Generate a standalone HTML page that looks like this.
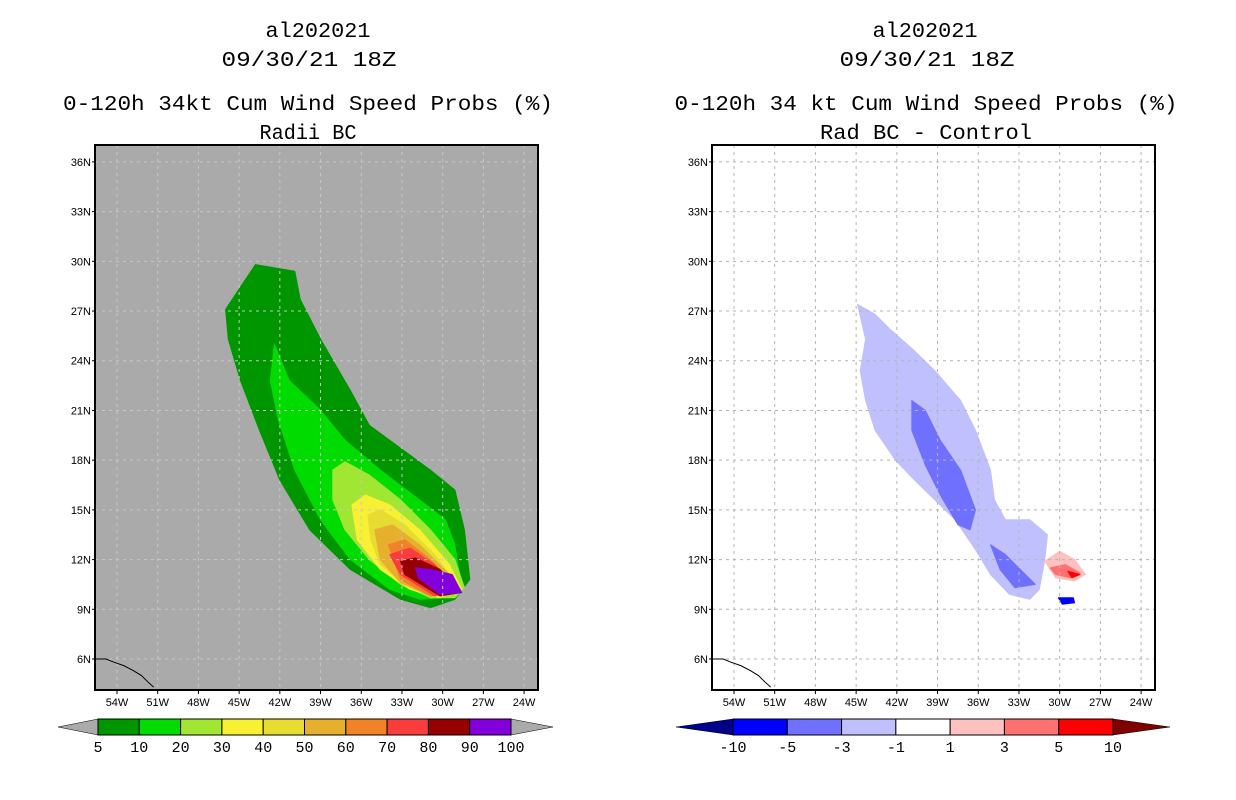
<!DOCTYPE html>
<html><head><meta charset="utf-8"><style>
html,body{margin:0;padding:0;background:#fff;}
svg{display:block;font-family:"Liberation Sans",sans-serif;}
.t{font-family:"Liberation Mono",monospace;}
</style></head><body>
<svg id="chart" width="1236" height="800" viewBox="0 0 1236 800">
<g font-size="21" text-anchor="middle" fill="#000" class="t">
<text x="318" y="37" textLength="105" lengthAdjust="spacingAndGlyphs">al202021</text>
<text x="309" y="66" textLength="175" lengthAdjust="spacingAndGlyphs">09/30/21 18Z</text>
<text x="308" y="110" textLength="490" lengthAdjust="spacingAndGlyphs">0-120h 34kt Cum Wind Speed Probs (%)</text>
<text x="308" y="139" textLength="97" lengthAdjust="spacingAndGlyphs">Radii BC</text>
</g>
<g font-size="21" text-anchor="middle" fill="#000" class="t">
<text x="925" y="37" textLength="105" lengthAdjust="spacingAndGlyphs">al202021</text>
<text x="927" y="66" textLength="175" lengthAdjust="spacingAndGlyphs">09/30/21 18Z</text>
<text x="926" y="110" textLength="503" lengthAdjust="spacingAndGlyphs">0-120h 34 kt Cum Wind Speed Probs (%)</text>
<text x="926" y="139" textLength="212" lengthAdjust="spacingAndGlyphs">Rad BC - Control</text>
</g>
<g id="left"></g>
<g id="right"></g>
<g id="cbars"></g>
</svg>
<script>
// Data
const lonTicks = [-54,-51,-48,-45,-42,-39,-36,-33,-30,-27,-24];
const latTicks = [6,9,12,15,18,21,24,27,30,33,36];
const coast = [[-55.6,6.0],[-54.8,6.0],[-54.2,5.8],[-53.5,5.6],[-52.8,5.3],[-52.2,5.0],[-51.7,4.6],[-51.3,4.3]];
const probLevels = [5,10,20,30,40,50,60,70,80,90];
const probColors = ["#009600","#00dc00","#a0e632","#f8f032","#e6dc32","#e6af2d","#f08228","#fa3c3c","#960000","#8200dc"];
const probLabels = ["5","10","20","30","40","50","60","70","80","90","100"];
const prob5 = [[-46.0,27.1],[-43.8,29.8],[-40.9,29.4],[-40.5,27.7],[-39.0,25.3],[-36.8,22.2],[-35.4,20.1],[-30.9,17.4],[-29.1,16.2],[-28.4,13.8],[-28.0,10.8],[-29.1,9.6],[-30.9,9.1],[-33.1,9.6],[-36.8,11.4],[-39.8,13.8],[-42.0,16.8],[-43.5,19.8],[-44.9,22.8],[-45.8,25.3]];
const prob10 = [[-42.4,25.0],[-41.3,22.8],[-39.0,21.0],[-37.2,19.2],[-34.6,17.4],[-31.7,15.6],[-29.8,14.4],[-29.1,12.9],[-28.7,10.8],[-29.8,9.7],[-31.7,9.6],[-33.9,10.2],[-36.8,12.0],[-39.0,14.4],[-40.9,17.4],[-42.1,20.4],[-42.7,22.8]];
const prob20 = [[-38.1,17.4],[-37.2,17.9],[-35.4,17.1],[-33.1,15.6],[-30.9,13.8],[-29.1,12.0],[-28.4,10.3],[-29.1,9.7],[-30.9,9.7],[-33.1,10.5],[-35.4,12.0],[-37.2,13.8],[-38.1,15.6]];
const prob30 = [[-36.7,15.3],[-35.7,15.9],[-33.9,15.3],[-31.7,13.8],[-29.5,11.7],[-28.6,10.2],[-30.2,9.7],[-32.4,10.2],[-34.6,11.4],[-36.3,13.2]];
const prob40 = [[-35.5,14.7],[-34.6,15.0],[-32.8,14.1],[-30.6,12.3],[-28.8,10.3],[-30.6,9.8],[-32.8,10.5],[-34.6,11.7],[-35.3,13.2]];
const prob50 = [[-35.0,13.8],[-33.7,14.1],[-31.7,12.9],[-29.5,11.1],[-28.8,10.2],[-30.9,9.8],[-33.1,10.6],[-34.6,12.0]];
const prob60 = [[-34.0,12.9],[-32.8,13.2],[-30.9,12.0],[-28.9,10.2],[-30.9,9.8],[-33.1,10.8]];
const prob70 = [[-33.9,12.3],[-32.4,12.7],[-30.6,11.7],[-28.7,10.2],[-30.6,9.8],[-33.1,11.1]];
const prob80 = [[-33.1,11.9],[-32.0,12.1],[-30.2,11.4],[-28.7,10.0],[-30.2,9.8],[-32.8,11.1]];
const prob90 = [[-32.0,11.5],[-30.9,11.4],[-29.3,11.1],[-28.6,10.0],[-30.2,9.9],[-31.8,10.9]];
const diffLabels = ["-10","-5","-3","-1","1","3","5","10"];
const diffColors = ["#0000ff","#7070ff","#c0c0ff","#ffffff","#ffc0c0","#ff7070","#ff0000"];
const diffNeg3 = [[-44.9,27.4],[-43.6,26.8],[-42.5,25.9],[-40.7,24.6],[-39.2,23.4],[-37.3,21.6],[-36.2,19.8],[-35.1,17.4],[-34.8,15.6],[-34.0,14.4],[-32.2,14.4],[-30.9,13.5],[-31.1,12.0],[-31.5,10.2],[-32.2,9.6],[-33.7,9.9],[-35.1,11.1],[-36.2,12.6],[-37.7,14.4],[-39.2,15.6],[-40.7,16.8],[-42.1,18.0],[-43.6,19.8],[-44.3,21.6],[-44.7,23.4],[-44.3,25.3]];
const diffNeg5a = [[-40.9,21.6],[-39.9,21.0],[-38.8,19.2],[-37.3,17.4],[-36.2,15.0],[-36.6,13.8],[-37.5,14.1],[-38.8,15.9],[-39.9,17.7],[-40.9,19.8]];
const diffNeg5b = [[-35.1,12.9],[-34.0,12.3],[-32.9,11.4],[-31.8,10.5],[-33.3,10.3],[-34.4,11.4]];
const diffNeg10 = [[-30.1,9.7],[-29.0,9.7],[-28.9,9.4],[-29.8,9.3]];
const diffPos1 = [[-31.1,11.9],[-30.0,12.5],[-28.9,12.0],[-28.1,11.1],[-28.9,10.7],[-30.3,10.9]];
const diffPos3 = [[-30.7,11.5],[-29.6,11.7],[-28.5,11.2],[-29.2,10.9],[-30.3,11.1]];
const diffPos5 = [[-29.4,11.3],[-28.5,11.1],[-29.1,10.9]];

const NS='http://www.w3.org/2000/svg';
function mk(tag,attrs,parent){const e=document.createElementNS(NS,tag);for(const k in attrs)e.setAttribute(k,attrs[k]);parent.appendChild(e);return e;}
function makeMap(g,x0,bg,gridCol){
  const xs=lon=>x0+22+(lon+54)*13.57;
  const ys=lat=>659-(lat-6)*16.57;
  const r=mk('rect',{x:x0,y:145,width:443,height:545,fill:bg},g);
  
  
  const clipId='clip'+x0;
  const cp=mk('clipPath',{id:clipId},g);
  mk('rect',{x:x0,y:145,width:443,height:545},cp);
  const inner=mk('g',{'clip-path':'url(#'+clipId+')'},g);
  
  
  return {xs,ys,inner,finish:()=>{
    lonTicks.forEach(l=>{
      const gl=mk('line',{x1:xs(l),x2:xs(l),y1:145,y2:690,stroke:gridCol,'stroke-dasharray':'3,4','stroke-width':1},inner);
      
      
      const t=mk('text',{x:xs(l),y:706,'font-size':11,'text-anchor':'middle'},g);
      t.textContent=Math.abs(l)+'W';
      
      
      mk('line',{x1:xs(l),x2:xs(l),y1:690,y2:694,stroke:'#000'},g);
    });
    latTicks.forEach(l=>{
      const gl=mk('line',{x1:x0,x2:x0+443,y1:ys(l),y2:ys(l),stroke:gridCol,'stroke-dasharray':'3,4','stroke-width':1},inner);
      
      
      const t=mk('text',{x:x0-4,y:ys(l)+4,'font-size':11,'text-anchor':'end'},g);
      t.textContent=l+'N';
      
      
      mk('line',{x1:x0-3,x2:x0,y1:ys(l),y2:ys(l),stroke:'#000'},g);
    });
    const c=mk('polyline',{points:coast.map(p=>xs(p[0])+','+ys(p[1])).join(' '),fill:'none',stroke:'#000','stroke-width':1},inner);
    
    
    const f=mk('rect',{x:x0,y:145,width:443,height:545,fill:'none',stroke:'#000','stroke-width':2},g);
    
    
  }};
}
function poly(m,pts,col,name){
  const p=mk('polygon',{points:pts.map(q=>m.xs(q[0]).toFixed(1)+','+m.ys(q[1]).toFixed(1)).join(' '),fill:col,stroke:col,'stroke-width':1,'stroke-linejoin':'round'},m.inner);
  
  
}
const L=makeMap(document.getElementById('left'),95,'#aaaaaa','#c8c8c8');
[prob5,prob10,prob20,prob30,prob40,prob50,prob60,prob70,prob80,prob90].forEach((s,i)=>poly(L,s,probColors[i],'prob-contour-'+probLevels[i]));
L.finish();
const R=makeMap(document.getElementById('right'),712,'#ffffff','#b4b4b4');
poly(R,diffNeg3,diffColors[2],'diff-contour-neg3');
poly(R,diffNeg5a,diffColors[1],'diff-contour-neg5-north');
poly(R,diffNeg5b,diffColors[1],'diff-contour-neg5-south');
poly(R,diffNeg10,diffColors[0],'diff-contour-neg10');
poly(R,diffPos1,diffColors[4],'diff-contour-pos1');
poly(R,diffPos3,diffColors[5],'diff-contour-pos3');
poly(R,diffPos5,diffColors[6],'diff-contour-pos5');
R.finish();

// colorbars
const cb=document.getElementById('cbars');
function colorbar(x0,x1,lt,rt,ltCol,rtCol,cols,labels,name){
  const g=mk('g',{},cb);
  
  
  const y0=719,y1=735,ym=727,w=(x1-x0)/cols.length;
  const a=mk('polygon',{points:`${lt},${ym} ${x0},${y0} ${x0},${y1}`,fill:ltCol,stroke:'#000','stroke-width':0.5},g);
  
  
  const b=mk('polygon',{points:`${rt},${ym} ${x1},${y0} ${x1},${y1}`,fill:rtCol,stroke:'#000','stroke-width':0.5},g);
  
  
  cols.forEach((c,i)=>{
    const r=mk('rect',{x:x0+i*w,y:y0,width:w,height:y1-y0,fill:c,stroke:'#000','stroke-width':1},g);
    
    
  });
  labels.forEach((t,i)=>{
    const e=mk('text',{x:x0+i*w,y:752,'font-size':15,'text-anchor':'middle','font-family':'Liberation Mono, monospace'},g);
    e.textContent=t;
    
    
  });
}
colorbar(98,511,58,553,'#aaaaaa','#aaaaaa',probColors,probLabels,'probability-colorbar');
colorbar(733,1113,676,1170,'#00008b','#800000',diffColors,diffLabels,'difference-colorbar');
</script>
</body></html>
